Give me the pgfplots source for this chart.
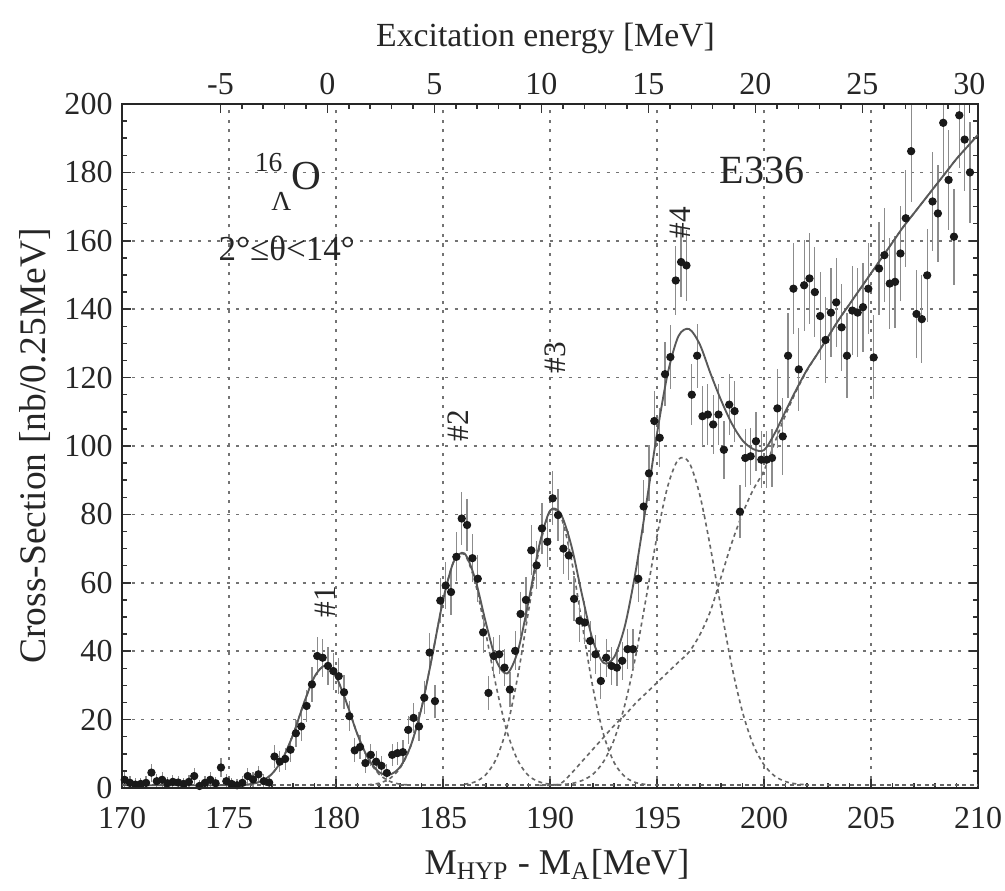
\documentclass[border=0pt]{standalone}
\usepackage{fontspec}
\setmainfont{Liberation Serif}
\usepackage{pgfplots}
\usepackage{pgfplotstable}
\pgfplotsset{compat=1.18}

\pgfplotstableread{
x y e
170.125 2.4 2.2
170.375 1.5 2
170.625 1.0 1.8
170.875 1.2 1.8
171.125 1.5 2
171.375 4.5 2.6
171.625 2.0 2
171.875 2.4 2.2
172.125 1.4 1.9
172.375 1.8 2
172.625 1.6 2
172.875 1.2 1.8
173.125 1.8 2
173.375 3.5 2.4
173.625 0.6 1.6
173.875 1.5 2
174.125 2.4 2.2
174.375 1.4 1.9
174.625 6.0 2.8
174.875 2.0 2
175.125 1.2 1.8
175.375 0.8 1.7
175.625 1.5 2
175.875 3.5 2.4
176.125 2.5 2.2
176.375 4.0 2.5
176.625 2.0 2
176.875 1.6 2
177.125 9.2 3.3
177.375 7.7 3.1
177.625 8.5 3.2
177.875 11.2 3.5
178.125 16.0 4
178.375 18.0 4.2
178.625 24.0 4.7
178.875 30.3 5.1
179.125 38.6 5.7
179.375 38.1 5.6
179.625 35.7 5.5
179.875 34.2 5.4
180.125 32.7 5.3
180.375 28.0 5
180.625 21.0 4.4
180.875 11.0 3.5
181.125 12.0 3.6
181.375 7.3 3
181.625 9.7 3.3
181.875 7.7 3.1
182.125 6.5 2.9
182.375 4.4 2.6
182.625 9.7 3.3
182.875 10.2 3.4
183.125 10.5 3.4
183.375 17.0 4.1
183.625 20.5 4.4
183.875 18.0 4.2
184.125 26.4 4.9
184.375 39.6 5.7
184.625 25.4 4.8
184.875 54.8 6.6
185.125 59.2 6.8
185.375 57.3 6.7
185.625 67.6 7.2
185.875 78.8 7.7
186.125 76.9 7.6
186.375 67.2 7.1
186.625 61.2 6.9
186.875 45.5 6.1
187.125 27.8 5
187.375 38.6 5.7
187.625 39.1 5.7
187.875 35.2 5.4
188.125 28.8 5
188.375 40.1 5.7
188.625 50.9 6.4
188.875 55.0 6.6
189.125 69.5 7.3
189.375 65.1 7
189.625 75.9 7.5
189.875 72.0 7.4
190.125 84.7 7.9
190.375 79.8 7.7
190.625 70.0 7.3
190.875 68.0 7.2
191.125 55.3 6.6
191.375 48.9 6.2
191.625 48.4 6.2
191.875 43.0 5.9
192.125 39.1 5.7
192.375 31.3 5.2
192.625 38.1 5.6
192.875 35.7 5.5
193.125 35.2 5.4
193.375 37.2 5.6
193.625 40.6 5.8
193.875 40.6 5.8
194.125 61.2 6.9
194.375 82.3 7.8
194.625 92.0 8.2
194.875 107.3 8.8
195.125 102.4 8.6
195.375 121.0 9.3
195.625 126.0 9.4
195.875 148.4 10.1
196.125 153.8 10.3
196.375 152.8 10.3
196.625 115.0 9
196.875 126.4 9.4
197.125 108.7 8.8
197.375 109.2 8.8
197.625 106.3 8.7
197.875 109.2 8.8
198.125 98.9 8.5
198.375 112.1 8.9
198.625 110.2 8.9
198.875 80.8 7.7
199.125 96.5 8.4
199.375 97.0 8.4
199.625 101.4 8.6
199.875 96.0 8.3
200.125 96.0 8.3
200.375 96.5 8.4
200.625 111.0 11.6
200.875 102.8 11.2
201.125 126.4 12.4
201.375 146.0 13.3
201.625 122.4 12.2
201.875 147.0 13.3
202.125 149.0 13.4
202.375 145.0 13.2
202.625 138.0 12.9
202.875 131.0 12.6
203.125 139.0 13
203.375 142.0 13.1
203.625 134.7 12.8
203.875 126.4 12.4
204.125 139.6 13
204.375 139.0 13
204.625 140.6 13
204.875 146.0 13.3
205.125 125.9 12.3
205.375 151.9 13.6
205.625 155.8 13.7
205.875 147.5 13.4
206.125 148.0 13.4
206.375 156.3 13.8
206.625 166.6 14.2
206.875 186.2 15
207.125 138.6 12.9
207.375 137.1 12.9
207.625 149.9 13.5
207.875 171.5 14.4
208.125 168.0 14.3
208.375 194.5 15.3
208.625 177.8 14.7
208.875 161.2 14
209.125 196.7 15.4
209.375 189.6 15.1
209.625 180.0 14.8
}\data

\pgfplotstableread{
x y
170 0.8
170.5 0.8
171 0.8
171.5 0.8
172 0.8
172.5 0.8
173 0.8
173.5 0.8
174 0.8
174.5 0.8
175 0.8
175.5 0.8
176 1.1
176.5 2.0
177 4.1
177.5 8.5
178 15.7
178.5 24.8
179 32.6
179.5 35.8
180 32.6
180.5 24.8
181 15.7
181.5 8.7
182 4.7
182.5 3.9
183 6.2
183.5 12.5
184 23.5
184.5 38.7
185 54.8
185.5 66.2
186 68.6
186.5 61.2
187 48.4
187.5 37.1
188 33.5
188.5 40.1
189 54.7
189.5 71.0
190 81.1
190.5 80.2
191 70.8
191.5 56.4
192 43.2
192.5 36.6
193 38.3
193.5 47.4
194 63.3
194.5 83.1
195 103.6
195.5 121.2
196 132.1
196.5 134.2
197 129.7
197.5 121.2
198 113.3
198.5 106.5
199 101.6
199.5 99.1
200 98.8
200.5 103.7
201 110.1
201.5 116.4
202 122.2
202.5 127
203 132
203.5 137
204 141.5
204.5 146
205 150.5
205.5 155
206 159.5
206.5 164
207 168
207.5 172
208 176
208.5 180
209 184
209.5 187.5
210 191
}\fit

\pgfplotstableread{
x y
175.5 0.9
176 1.1
176.5 2.0
177 4.1
177.5 8.5
178 15.7
178.5 24.8
179 32.6
179.5 35.8
180 32.6
180.5 24.8
181 15.7
181.5 8.5
182 4.1
182.5 2.0
183 1.1
183.5 0.9
}\gone

\pgfplotstableread{
x y
181.5 0.96
182 1.4
182.5 2.7
183 5.9
183.5 12.4
184 23.5
184.5 38.7
185 54.8
185.5 66.2
186 68.3
186.5 60.2
187 45.3
187.5 29.3
188 16.3
188.5 8.0
189 3.6
189.5 1.8
190 1.1
190.5 0.87
}\gtwo

\pgfplotstableread{
x y
186 1.1
186.5 1.8
187 3.9
187.5 8.7
188 18.0
188.5 32.9
189 51.9
189.5 70.0
190 80.8
190.5 79.5
191 66.8
191.5 48.0
192 29.5
192.5 15.7
193 7.4
193.5 3.3
194 1.6
194.5 1.0
}\gthree

\pgfplotstableread{
x y
190 0.86
190.5 1.0
191 1.3
191.5 2.2
192 4.0
192.5 7.7
193 14.2
193.5 24.4
194 38.5
194.5 55.9
195 73.6
195.5 88.2
196 96.1
196.5 95.2
197 85.7
197.5 70.2
198 52.3
198.5 35.5
199 22.1
199.5 12.6
200 6.8
200.5 3.5
201 1.9
201.5 1.2
202 0.95
}\gfour

\pgfplotstableread{
x y
189.5 0.8
190 0.8
190.5 1.3
191 4.3
191.5 7.8
192 11.3
192.5 14.8
193 18.3
193.5 21.3
194 24.8
194.5 27.8
195 30.8
195.5 33.8
196 36.8
196.5 39.8
197 44.8
197.5 51.8
198 61.8
198.5 71.8
199 80.3
199.5 87.3
200 92.8
200.5 101
201 109
201.5 116
202 122
202.5 127
203 132
203.5 137
204 141.5
204.5 146
205 150.5
205.5 155
206 159.5
206.5 164
207 168
207.5 172
208 176
208.5 180
209 184
209.5 187.5
210 191
}\bg

\begin{document}
\begin{tikzpicture}
\pgfplotsset{
  comp/.style={black!60, line width=0.65pt, dash pattern=on 1.6pt off 1.4pt},
}
\begin{axis}[
  name=main,
  scale only axis, width=342.4pt, height=273.6pt,
  xmin=170, xmax=210, ymin=0, ymax=200,
  xtick={170,175,...,210}, ytick={0,20,...,200},
  minor x tick num=4, minor y tick num=3,
  xtick pos=left, ytick pos=both, yticklabel pos=left,
  tick align=inside,
  major tick length=3.5pt, minor tick length=2pt,
  grid=major,
  major grid style={black!55, line width=0.6pt, dash pattern=on 1.2pt off 2.6pt},
  axis line style={black!85, line width=0.9pt},
  every tick/.style={black!80, line width=0.6pt},
  tick label style={font=\fontsize{12.8}{13}\selectfont, black!85, inner sep=0pt},
  xticklabel style={yshift=-7.6pt},
  yticklabel style={xshift=-3.6pt},
  /pgf/number format/assume math mode=true,
  xlabel={M\textsubscript{HYP} - M\textsubscript{A}[MeV]},
  ylabel={Cross-Section [nb/0.25MeV]},
  every axis x label/.style={at={([xshift=2.8pt,yshift=-30.6pt]rel axis cs:0.5,0)}, anchor=center, font=\fontsize{14.5}{15}\selectfont, black!85},
  every axis y label/.style={at={([xshift=-34.8pt]rel axis cs:0,0.5)}, anchor=center, rotate=90, font=\fontsize{15}{16}\selectfont, black!85},
]
\addplot[comp] coordinates {(170,0.8) (210,0.8)};
\addplot[comp, smooth] table {\gone};
\addplot[comp, smooth] table {\gtwo};
\addplot[comp, smooth] table {\gthree};
\addplot[comp, smooth] table {\gfour};
\addplot[comp, smooth] table {\bg};
\addplot[only marks, mark=*, mark size=1.45pt, black!90,
  error bars/.cd, y dir=both, y explicit,
  error bar style={black!45, line width=0.5pt}, error mark=none]
  table[x=x, y=y, y error=e] {\data};
\addplot[black!65, line width=0.75pt, smooth] table {\fit};

\node[font=\fontsize{16.5}{17}\selectfont, black!85] at (axis cs:178.6,178.8) {O};
\node[font=\fontsize{11}{11}\selectfont, black!85] at (axis cs:176.85,182.8) {16};
\node[font=\fontsize{11}{11}\selectfont, black!85] at (axis cs:177.45,171.6) {Λ};
\node[font=\fontsize{14}{14}\selectfont, black!85] at (axis cs:177.7,157.8) {2°≤θ<14°};
\node[font=\fontsize{16}{16}\selectfont, black!85] at (axis cs:199.9,180.6) {E336};
\node[font=\fontsize{12.5}{13}\selectfont, rotate=90, black!85] at (axis cs:179.5,54.4) {\#1};
\node[font=\fontsize{12.5}{13}\selectfont, rotate=90, black!85] at (axis cs:185.7,106) {\#2};
\node[font=\fontsize{12.5}{13}\selectfont, rotate=90, black!85] at (axis cs:190.25,125.9) {\#3};
\node[font=\fontsize{12.5}{13}\selectfont, rotate=90, black!85] at (axis cs:196.1,165.3) {\#4};
\end{axis}

\begin{axis}[
  scale only axis, width=342.4pt, height=273.6pt,
  xmin=-9.6, xmax=30.4, ymin=0, ymax=200,
  hide y axis,
  xtick={-5,0,...,30}, minor x tick num=4,
  xtick pos=right, xticklabel pos=right,
  tick align=inside,
  major tick length=3.5pt, minor tick length=2pt,
  axis line style={black!85, line width=0.9pt},
  every tick/.style={black!80, line width=0.6pt},
  tick label style={font=\fontsize{12.8}{13}\selectfont, black!85},
  /pgf/number format/assume math mode=true,
  xlabel={Excitation energy [MeV]},
  every axis x label/.style={at={([xshift=-1.8pt,yshift=26.4pt]rel axis cs:0.5,1)}, anchor=center, font=\fontsize{13.5}{14}\selectfont, black!85},
]
\end{axis}
\pgfresetboundingbox
\path[use as bounding box] ([shift={(-48.8pt,-40.8pt)}]main.south west) rectangle ([shift={(10.8pt,41.6pt)}]main.north east);
\end{tikzpicture}
\end{document}
